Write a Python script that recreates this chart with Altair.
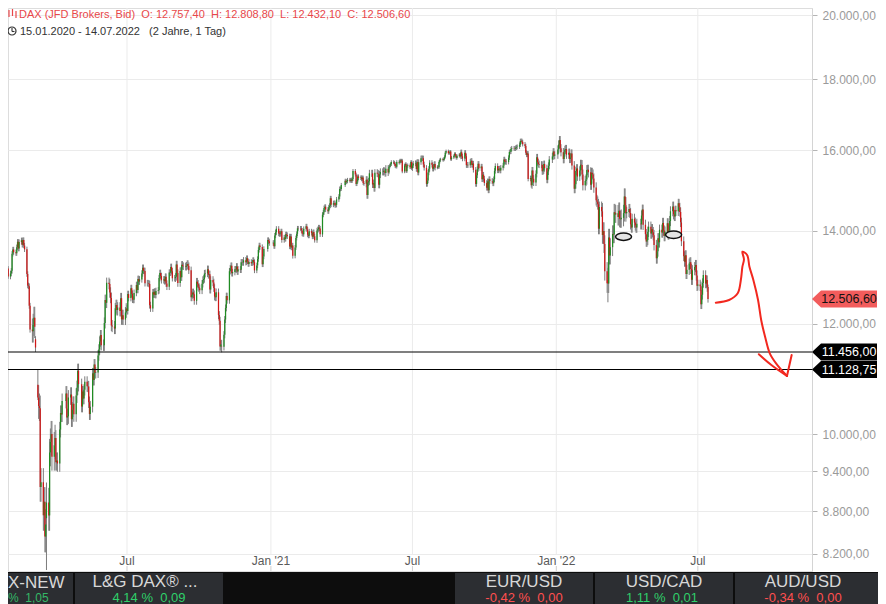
import altair as alt
import numpy as np
import pandas as pd

FONT = "Liberation Sans"

# ---------------- daily closes, one list per month ----------------
c2020_01 = [13432, 13429, 13526, 13549, 13556, 13515, 13388, 13577, 13205, 13324, 13345, 13157, 12982]
c2020_02 = [13046, 13104, 13479, 13575, 13514, 13494, 13627, 13750, 13595, 13745, 13784, 13681, 13789, 13664, 13579, 13035, 12790, 12774, 12367, 11890]
c2020_03 = [11857, 11985, 12127, 11944, 11542, 10625, 10475, 10439, 9161, 9232, 8742, 8939, 8442, 8610, 8929, 8741, 9701, 9874, 10000, 9633, 9816, 9936]
c2020_04 = [9544, 9571, 9525, 10075, 10356, 10332, 10565, 10697, 10280, 10301, 10626, 10676, 10250, 10416, 10514, 10336, 10659, 10796, 11107, 10862]
c2020_05 = [10467, 10729, 10606, 10760, 10904, 10825, 10819, 10542, 10337, 10465, 11058, 10939, 11223, 11065, 11074, 11392, 11504, 11657, 11781, 11587]
c2020_06 = [11587, 12021, 12487, 12431, 12848, 12820, 12642, 12530, 11970, 11949, 11911, 12316, 12382, 12281, 12331, 12262, 12524, 12094, 12177, 12089, 12232, 12311]
c2020_07 = [12261, 12609, 12528, 12734, 12617, 12495, 12490, 12634, 12800, 12697, 12930, 12874, 12920, 13047, 13171, 13104, 13103, 12838, 12839, 12836, 12822, 12380, 12313]
c2020_08 = [12647, 12601, 12660, 12591, 12674, 12687, 12947, 13058, 12993, 12901, 12920, 12881, 12977, 12830, 12764, 13066, 13062, 13190, 13096, 12945, 12945]
c2020_09 = [12974, 13243, 13057, 12842, 13100, 12968, 13237, 13209, 13202, 13193, 13218, 13255, 13208, 13116, 12542, 12594, 12643, 12606, 12469, 12871, 12825, 12761]
c2020_10 = [12731, 12689, 12828, 12906, 12928, 13042, 13051, 13138, 13018, 13028, 12703, 12908, 12854, 12736, 12558, 12543, 12646, 12178, 12064, 11561, 11598, 11556]
c2020_11 = [11789, 12089, 12324, 12568, 12480, 13096, 13163, 13216, 13052, 13077, 13139, 13133, 13201, 13087, 13137, 13127, 13292, 13290, 13286, 13335, 13291]
c2020_12 = [13382, 13313, 13253, 13298, 13271, 13278, 13340, 13296, 13114, 13223, 13362, 13566, 13667, 13630, 13246, 13418, 13587, 13790, 13761, 13719]
c2021_01 = [13726, 13651, 13892, 13968, 14050, 13937, 13925, 13940, 13989, 13788, 13848, 13815, 13921, 13906, 13874, 13643, 13871, 13620, 13665, 13433]
c2021_02 = [13622, 13836, 13933, 14060, 14057, 14059, 14012, 13933, 13921, 14050, 14109, 14033, 13909, 13886, 13993, 13950, 13865, 13976, 13879, 13786]
c2021_03 = [14012, 14039, 14080, 14056, 13920, 14380, 14437, 14540, 14569, 14502, 14461, 14557, 14596, 14776, 14621, 14657, 14662, 14610, 14617, 14749, 14818, 15008, 15008]
c2021_04 = [15107, 15212, 15176, 15202, 15234, 15215, 15234, 15209, 15255, 15460, 15368, 15129, 15195, 15320, 15280, 15296, 15249, 15292, 15154, 15136]
c2021_05 = [15236, 14856, 15170, 15197, 15400, 15400, 15120, 15150, 15030, 15417, 15396, 15386, 15113, 15370, 15437, 15437, 15465, 15451, 15407, 15520, 15421]
c2021_06 = [15568, 15603, 15633, 15693, 15677, 15641, 15581, 15571, 15693, 15674, 15729, 15711, 15728, 15448, 15603, 15636, 15456, 15589, 15608, 15554, 15691, 15531]
c2021_07 = [15603, 15650, 15661, 15511, 15693, 15420, 15688, 15790, 15789, 15788, 15630, 15540, 15133, 15216, 15422, 15514, 15669, 15618, 15519, 15570, 15640, 15544]
c2021_08 = [15568, 15555, 15692, 15744, 15761, 15745, 15770, 15826, 15937, 15977, 15925, 15922, 15966, 15765, 15808, 15852, 15906, 15860, 15794, 15852, 15888, 15835]
c2021_09 = [15946, 15840, 15781, 15932, 15843, 15610, 15623, 15609, 15701, 15722, 15616, 15652, 15490, 15132, 15349, 15507, 15644, 15532, 15573, 15249, 15365, 15261]
c2021_10 = [15156, 15037, 15195, 14973, 15252, 15206, 15199, 15147, 15250, 15463, 15587, 15475, 15516, 15522, 15472, 15543, 15600, 15757, 15705, 15696, 15689]
c2021_11 = [15806, 15954, 15959, 16030, 16054, 16047, 16040, 16068, 16083, 16094, 16148, 16248, 16251, 16221, 16160, 16115, 15937, 15878, 15917, 15257, 15281, 15100]
c2021_12 = [15473, 15263, 15170, 15387, 15813, 15687, 15639, 15623, 15621, 15453, 15476, 15637, 15532, 15240, 15447, 15593, 15756, 15838, 15964, 15853, 15885]
c2022_01 = [16021, 16152, 16271, 16052, 15948, 15768, 15942, 16010, 16032, 15883, 15934, 15773, 15810, 15912, 15604, 15011, 15123, 15460, 15525, 15318, 15471]
c2022_02 = [15619, 15613, 15368, 15100, 15207, 15242, 15482, 15490, 15425, 15114, 15412, 15370, 15268, 15042, 14731, 14693, 14631, 14052, 14567, 14461]
c2022_03 = [13905, 14000, 13698, 13094, 12835, 12832, 13848, 13443, 13628, 13929, 13918, 14440, 14388, 14413, 14326, 14474, 14283, 14273, 14306, 14418, 14820, 14606, 14415]
c2022_04 = [14446, 14519, 14424, 14152, 14078, 14284, 14193, 14125, 14076, 14164, 14153, 14362, 14502, 14142, 13924, 13756, 13793, 13980, 14098]
c2022_05 = [13940, 14039, 13971, 13902, 13674, 13381, 13534, 13828, 13739, 14027, 13964, 14186, 14008, 13882, 13982, 14176, 13919, 14007, 14231, 14462, 14575, 14388]
c2022_06 = [14340, 14485, 14460, 14653, 14556, 14445, 14199, 13762, 13427, 13304, 13447, 13038, 13126, 13265, 13292, 13145, 12912, 13118, 13186, 13232, 13003, 12784]
c2022_07 = [12813, 12773, 12401, 12595, 12843, 13015, 12832, 12905, 12756, 12506.6]

months = ["2020-01", "2020-02", "2020-03", "2020-04", "2020-05", "2020-06", "2020-07", "2020-08",
          "2020-09", "2020-10", "2020-11", "2020-12", "2021-01", "2021-02", "2021-03", "2021-04",
          "2021-05", "2021-06", "2021-07", "2021-08", "2021-09", "2021-10", "2021-11", "2021-12",
          "2022-01", "2022-02", "2022-03", "2022-04", "2022-05", "2022-06", "2022-07"]
month_closes = [c2020_01, c2020_02, c2020_03, c2020_04, c2020_05, c2020_06, c2020_07, c2020_08,
                c2020_09, c2020_10, c2020_11, c2020_12, c2021_01, c2021_02, c2021_03, c2021_04,
                c2021_05, c2021_06, c2021_07, c2021_08, c2021_09, c2021_10, c2021_11, c2021_12,
                c2022_01, c2022_02, c2022_03, c2022_04, c2022_05, c2022_06, c2022_07]
# typical wick beyond the candle body per month (points), read from the band thickness
month_wick = [50, 60, 220, 130, 100, 110, 70, 70, 80, 80, 70, 60,
              60, 55, 60, 50, 90, 45, 70, 40, 70, 70, 60, 90,
              110, 130, 200, 120, 120, 110, 100]

holidays = ["2020-04-10", "2020-04-13", "2020-05-01", "2020-12-24", "2020-12-25", "2020-12-31",
            "2021-01-01", "2021-04-02", "2021-04-05", "2021-12-24", "2021-12-31",
            "2022-04-15", "2022-04-18"]
first_open = 13456

# days with their own open / high / low (gaps and marked extremes)
ov_dates = ["2020-03-06", "2020-03-09", "2020-03-20", "2020-10-30", "2022-03-08", "2022-07-14"]
ov_open = [11700, 10850, 8700, 11560, 12900, 12757.40]
ov_high = [11760, 11128.75, 9230, 11690, 13170, 12808.80]
ov_low = [11456, 10580, 7985, 11450, 12439, 12432.10]

level_values = [11456.00, 11128.75]
last_close = 12506.60

y_ticks = [8200, 8800, 9400, 10000, 12000, 14000, 16000, 18000, 20000]
x_tick_dates = ["2020-07-01", "2021-01-01", "2021-07-01", "2022-01-01", "2022-07-01"]
x_tick_labels = ["Jul", "Jan '21", "Jul", "Jan '22", "Jul"]

ellipse_dates = ["2022-03-28", "2022-05-31"]
ellipse_values = [13866, 13910]

# hand-drawn red arrow (date, value) points, stroke 0 = path, 1/2 = arrow head
arrow_stroke = [0] * 16 + [1] * 3 + [2] * 2
arrow_dates = ["2022-07-24", "2022-08-10", "2022-08-21", "2022-08-25", "2022-08-27", "2022-08-29",
               "2022-08-27", "2022-09-02", "2022-09-05", "2022-09-10", "2022-09-16", "2022-09-20",
               "2022-09-25", "2022-10-01", "2022-10-09", "2022-10-23",
               "2022-09-17", "2022-10-03", "2022-10-23",
               "2022-10-23", "2022-10-29"]
arrow_values = [12431, 12487, 12626, 12907, 13194, 13357,
                13526, 13452, 13194, 12907, 12487, 12080,
                11750, 11432, 11244, 11010,
                11413, 11212, 11010,
                11010, 11400]

# ---------------- build the candle table ----------------
hol = set(pd.to_datetime(holidays))


def month_days(ym, n):
    start = pd.Timestamp(ym + "-01")
    end = start + pd.offsets.MonthEnd(0)
    if ym == "2020-01":
        start = pd.Timestamp("2020-01-15")
    if ym == "2022-07":
        end = pd.Timestamp("2022-07-14")
    d = [x for x in pd.bdate_range(start, end) if x not in hol]
    if len(d) != n:
        idx = np.round(np.linspace(0, len(d) - 1, n)).astype(int)
        d = [d[i] for i in idx]
    return d


rows = []
for ym, cl, w in zip(months, month_closes, month_wick):
    for d, c in zip(month_days(ym, len(cl)), cl):
        rows.append((d, float(c), w))
df = pd.DataFrame(rows, columns=["date", "close", "wick"])
df["open"] = df["close"].shift(1).fillna(first_open)
df["high"] = np.maximum(df["open"], df["close"]) + df["wick"]
df["low"] = np.minimum(df["open"], df["close"]) - df["wick"]
for d, o, h, l in zip(ov_dates, ov_open, ov_high, ov_low):
    m = df["date"] == pd.Timestamp(d)
    df.loc[m, "open"] = o
    df.loc[m, "high"] = h
    df.loc[m, "low"] = l
df["dir"] = np.where(df["close"] >= df["open"], "up", "down")


def de(v):
    return f"{v:,.2f}".replace(",", "#").replace(".", ",").replace("#", ".")


# ---------------- scales ----------------
W, H = 804, 563
xscale = alt.Scale(domain=[alt.DateTime(year=2020, month=1, date=30, hours=19, minutes=12),
                           alt.DateTime(year=2022, month=11, date=24)])
yscale = alt.Scale(type="log", domain=[7972, 20249], nice=False, zero=False)
yaxis = alt.Axis(orient="right", values=y_ticks, title=None, grid=True, gridColor="#ebebeb",
                 domainColor="#d4d4d4", tickColor="#b5b5b5", tickSize=5, labelPadding=5,
                 labelColor="#9a9a9a", labelFontSize=12, labelFont=FONT, labelOverlap=False,
                 labelFlush=False,
                 labelExpr="replace(replace(replace(format(datum.value, ',.2f'), ',', '#'), '.', ','), '#', '.')")

one = pd.DataFrame({"k": [0]})


def txt(s, x, y, size, color, align="left", baseline="middle"):
    return alt.Chart(one).mark_text(text=s, align=align, baseline=baseline, fontSize=size,
                                    color=color, font=FONT).encode(x=alt.value(x), y=alt.value(y))


def box(x, x2, y, y2, color):
    return alt.Chart(one).mark_rect(color=color).encode(
        x=alt.value(x), x2=alt.value(x2), y=alt.value(y), y2=alt.value(y2))


layers = []

# vertical grid lines + tick stubs + labels
xt = pd.DataFrame({"date": pd.to_datetime(x_tick_dates), "lab": x_tick_labels})
layers.append(alt.Chart(xt).mark_rule(color="#ebebeb", strokeWidth=1).encode(
    x=alt.X("date:T", scale=xscale, axis=None), y=alt.value(0), y2=alt.value(546)))
layers.append(alt.Chart(xt).mark_rule(color="#cfcfcf", strokeWidth=1).encode(
    x=alt.X("date:T", scale=xscale, axis=None), y=alt.value(558), y2=alt.value(563)))
layers.append(alt.Chart(xt).mark_text(fontSize=12, color="#5a5a5a", font=FONT, baseline="middle").encode(
    x=alt.X("date:T", scale=xscale, axis=None), y=alt.value(553), text="lab:N"))

# candles
layers.append(alt.Chart(df).mark_rule(color="#7c7c7c", strokeWidth=1, clip=True).encode(
    x=alt.X("date:T", scale=xscale, axis=None),
    y=alt.Y("low:Q", scale=yscale, axis=yaxis), y2="high:Q"))
layers.append(alt.Chart(df).mark_rule(strokeWidth=1.25, clip=True).encode(
    x=alt.X("date:T", scale=xscale, axis=None),
    y=alt.Y("open:Q", scale=yscale, axis=yaxis), y2="close:Q",
    color=alt.Color("dir:N", scale=alt.Scale(domain=["up", "down"], range=["#1f8c22", "#cf1717"]),
                    legend=None)))

# horizontal level lines
lv = pd.DataFrame({"v": level_values, "lab": [de(v) for v in level_values]})
layers.append(alt.Chart(lv).mark_rule(color="#000000", strokeWidth=1.2).encode(
    y=alt.Y("v:Q", scale=yscale, axis=yaxis)))

# price tags
TAG = "M -1 0 L -0.723 -0.262 L 1 -0.262 L 1 0.262 L -0.723 0.262 Z"
TAG_X, TAG_SIZE, TAG_TX = 836.5, 4225, 841
lc = pd.DataFrame({"v": [last_close], "lab": [de(last_close)]})
layers.append(alt.Chart(lv).mark_point(shape=TAG, filled=True, fill="#000000", strokeWidth=0,
                                       size=TAG_SIZE, opacity=1).encode(
    x=alt.value(TAG_X), y=alt.Y("v:Q", scale=yscale, axis=yaxis)))
layers.append(alt.Chart(lv).mark_text(fontSize=12.5, color="#ffffff", font=FONT, baseline="middle").encode(
    x=alt.value(TAG_TX), y=alt.Y("v:Q", scale=yscale, axis=yaxis), text="lab:N"))
layers.append(alt.Chart(lc).mark_point(shape=TAG, filled=True, fill="#f25c5c", strokeWidth=0,
                                       size=TAG_SIZE, opacity=1).encode(
    x=alt.value(TAG_X), y=alt.Y("v:Q", scale=yscale, axis=yaxis)))
layers.append(alt.Chart(lc).mark_text(fontSize=12.5, color="#111111", font=FONT, baseline="middle").encode(
    x=alt.value(TAG_TX), y=alt.Y("v:Q", scale=yscale, axis=yaxis), text="lab:N"))

# ellipse markers
ELL = "M -1 0 A 1 0.46 0 1 1 1 0 A 1 0.46 0 1 1 -1 0 Z"
el = pd.DataFrame({"date": pd.to_datetime(ellipse_dates), "v": ellipse_values})
layers.append(alt.Chart(el).mark_point(shape=ELL, filled=True, fill="#e4e4e4", stroke="#111111",
                                       strokeWidth=1.5, size=256, opacity=1).encode(
    x=alt.X("date:T", scale=xscale, axis=None), y=alt.Y("v:Q", scale=yscale, axis=yaxis)))

# hand-drawn red arrow
ar = pd.DataFrame({"date": pd.to_datetime(arrow_dates), "v": arrow_values,
                   "s": arrow_stroke, "o": list(range(len(arrow_values)))})
layers.append(alt.Chart(ar).mark_line(color="#f2281f", strokeWidth=2, interpolate="catmull-rom",
                                      strokeCap="round", strokeJoin="round").encode(
    x=alt.X("date:T", scale=xscale, axis=None), y=alt.Y("v:Q", scale=yscale, axis=yaxis),
    detail="s:N", order="o:Q"))

# header
RED = "#e8474a"
NB = "\u00a0\u00a0"
layers.append(txt("DAX (JFD Brokers, Bid)" + NB + "O: 12.757,40" + NB + "H: 12.808,80" + NB +
                  "L: 12.432,10" + NB + "C: 12.506,60", 11, 10.3, 11, RED, baseline="alphabetic"))
layers.append(txt("15.01.2020 - 14.07.2022" + NB + "\u00a0(2 Jahre, 1 Tag)", 12, 27, 11, "#333333",
                  baseline="alphabetic"))
ic = pd.DataFrame({"k": [0]})
for xx, a, b in [(1, 2, 9), (4.5, 1, 8), (8, 3, 10)]:
    layers.append(alt.Chart(ic).mark_rule(color=RED, strokeWidth=1.2).encode(
        x=alt.value(xx), y=alt.value(a), y2=alt.value(b)))
layers.append(alt.Chart(ic).mark_point(shape="circle", filled=False, color="#333333", strokeWidth=1.2,
                                       size=64, opacity=1).encode(x=alt.value(4), y=alt.value(23)))
layers.append(alt.Chart(ic).mark_rule(color="#333333", strokeWidth=1.1).encode(
    x=alt.value(4), y=alt.value(20), y2=alt.value(23.5)))
layers.append(alt.Chart(ic).mark_rule(color="#333333", strokeWidth=1.1).encode(
    x=alt.value(4), x2=alt.value(6.5), y=alt.value(23.5)))

# footer ticker bar
layers.append(box(0, 870, 564, 596, "#0d0d0d"))
for x1, x2 in [(0, 65), (67, 215), (447, 585), (587, 725), (727, 870)]:
    layers.append(box(x1, x2, 565, 596, "#2c2e32"))
GREEN_T = "#2fd06a"
RED_T = "#ff4f4f"
LIGHT = "#d8d8d8"
layers.append(txt("X-NEW", 0, 575, 17, LIGHT, align="left"))
layers.append(txt("%" + NB + "1,05", 0, 590, 12, "#34b866", align="left"))
layers.append(txt("L&G DAX® ...", 137, 574, 17, LIGHT, align="center"))
layers.append(txt("4,14 %" + NB + "0,09", 141, 590, 13, GREEN_T, align="center"))
layers.append(txt("EUR/USD", 516, 574, 17, LIGHT, align="center"))
layers.append(txt("-0,42 %" + NB + "0,00", 516, 590, 13, RED_T, align="center"))
layers.append(txt("USD/CAD", 656, 574, 17, LIGHT, align="center"))
layers.append(txt("1,11 %" + NB + "0,01", 654, 590, 13, GREEN_T, align="center"))
layers.append(txt("AUD/USD", 795, 574, 17, LIGHT, align="center"))
layers.append(txt("-0,34 %" + NB + "0,00", 795, 590, 13, RED_T, align="center"))

chart = alt.layer(*layers).properties(
    width=W, height=H,
    padding={"left": 0, "top": 0, "right": 66, "bottom": 33},
    autosize=alt.AutoSizeParams(type="none"),
    background="#ffffff",
).configure_view(stroke=None).configure(font=FONT)

chart.save("out.html", embed_options={"renderer": "svg", "actions": False})
